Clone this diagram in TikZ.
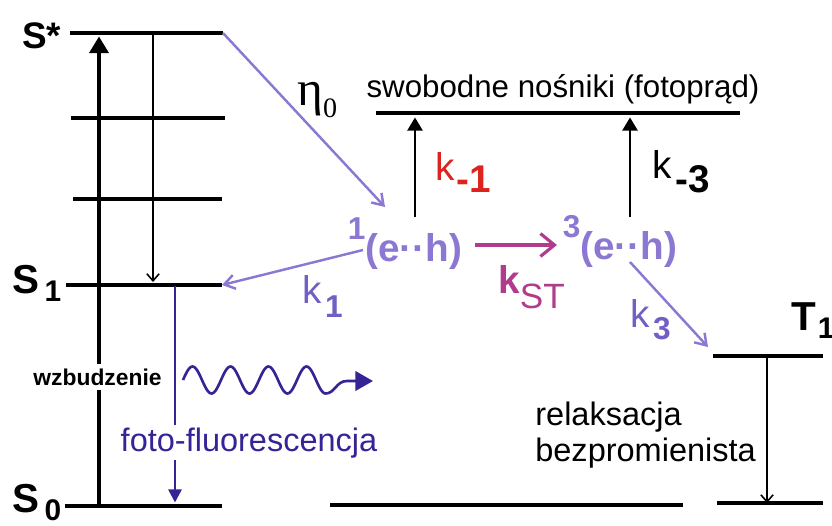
\documentclass[tikz,border=0pt]{standalone}
\usepackage{fontspec}
\setmainfont{Liberation Sans}
\newfontfamily\etafont{Liberation Serif}
\definecolor{exlav}{RGB}{140,120,210}
\definecolor{exk}{RGB}{115,95,195}
\definecolor{exindigo}{RGB}{55,35,150}
\definecolor{exmagenta}{RGB}{175,60,140}
\definecolor{exred}{RGB}{220,35,30}
\usetikzlibrary{arrows.meta,positioning}
\newcommand{\sz}[1]{\fontsize{#1}{#1}\selectfont}
\newcommand{\lowsub}[2]{\raisebox{-#1}{#2}}

\begin{document}
\begin{tikzpicture}[x=0.02cm, y=-0.02cm,
  level/.style={line width=2pt},
  excite/.style={line width=1.8pt, -{Triangle[length=9.5pt,width=11pt]}, shorten >=2pt},
  relax/.style={line width=0.9pt, -{Straight Barb[length=4pt,width=7pt]}},
  escape/.style={line width=1.5pt, -{Triangle[length=7.5pt,width=8.5pt]}, shorten >=2.5pt},
  lavarr/.style={exlav, line width=1.4pt, -{Straight Barb[length=6pt,width=8pt]}},
  emit/.style={exindigo, line width=1.5pt, -{Triangle[length=7.5pt,width=7.5pt]}},
  pairlab/.style={exlav, font=\bfseries\sz{22}, inner sep=0pt, anchor=base},
  statelab/.style={font=\bfseries\sz{23}, inner sep=0pt, anchor=base west},
  klab/.style={font=\sz{22}, inner sep=0pt, anchor=base west}]
\useasboundingbox (0,0) rectangle (832,525);

% energy levels
\coordinate (Sst-w) at (70,33);   \coordinate (Sst-e) at (223,33);
\coordinate (v2-w) at (71,118);   \coordinate (v2-e) at (225,118);
\coordinate (v3-w) at (73,199);   \coordinate (v3-e) at (222,199);
\coordinate (S1-w) at (66,285);   \coordinate (S1-e) at (222,285);
\coordinate (S0-w) at (65,506);   \coordinate (S0-e) at (222,506);
\coordinate (free-w) at (376,113); \coordinate (free-e) at (740,113);
\coordinate (mid-w) at (330,505); \coordinate (mid-e) at (683,505);
\coordinate (T1-w) at (713,356);  \coordinate (T1-e) at (823,356);
\coordinate (T0-w) at (717,503);  \coordinate (T0-e) at (823,503);

\foreach \lv in {Sst,v2,v3,S1,S0,free,mid,T1,T0}
  \draw[level] (\lv-w) -- (\lv-e);

\node[statelab] (Sst) at (22,48) {\sz{21}S*};
\node[statelab] (S1) at (12,293) {S\kern3pt\lowsub{5pt}{\sz{17}1}};
\node[statelab] (S0) at (12,512) {S\kern3pt\lowsub{5pt}{\sz{17}0}};
\node[statelab] (T1) at (791,330) {T\kern1pt\lowsub{5pt}{\sz{17}1}};

% singlet manifold
\coordinate (exc-a) at (99,506);  \coordinate (exc-b) at (99,33);
\coordinate (ic-a) at (153,33);   \coordinate (ic-b) at (153,282);
\coordinate (fl-a) at (175,286);  \coordinate (fl-b) at (175,506);
\draw[excite] (exc-a) -- (exc-b);
\draw[relax] (ic-a) -- (ic-b);
\draw[emit, shorten >=2pt] (fl-a) -- (fl-b);
\node[font=\bfseries\sz{13}, fill=white, inner sep=2.5pt, anchor=base] (wzb) at (97.5,385) {wzbudzenie};
\node[font=\sz{18.5}, exindigo, fill=white, inner xsep=0pt, inner ysep=1.5pt, anchor=base] (fluo) at (249,451) {foto-fluorescencja};

% emitted photon
\draw[exindigo, line width=1.5pt, -{Triangle[length=10pt,width=11pt]}]
  plot[domain=0:3.75, samples=120, smooth] ({183+38*\x}, {380-13.5*sin(360*\x)})
  .. controls (335,393.5) and (336,381) .. (347,381) -- (373,381);

% charge-transfer pairs
\node[font=\sz{17.8}, inner sep=0pt, anchor=base] (freelab) at (563,97) {swobodne nośniki (fotoprąd)};
\node[pairlab] (eh1) at (405,261) {\raisebox{12pt}{\sz{18}1}(e··h)};
\node[pairlab] (eh3) at (620,259) {\raisebox{12pt}{\sz{18}3}(e··h)};

\coordinate (eta-tip) at (385,207);
\coordinate (up1) at (415,217);  \coordinate (up3) at (630,217);
\coordinate (k1-from) at (363,250);
\coordinate (st-a) at (475,245); \coordinate (st-b) at (557,245);
\coordinate (k3-from) at (630,262); \coordinate (k3-tip) at (708,347);
\coordinate (rel-a) at (767,357); \coordinate (rel-b) at (767,503);

\draw[lavarr] (Sst-e) -- (eta-tip);
\draw[escape] (up1) -- (up1 |- free-w);
\draw[escape] (up3) -- (up3 |- free-w);
\draw[lavarr] (k1-from) -- (S1-e);
\draw[exmagenta, line width=1.8pt, -{Straight Barb[length=8pt,width=13pt]}] (st-a) -- (st-b);
\draw[lavarr] (k3-from) -- (k3-tip);
\draw[relax] (rel-a) -- (rel-b);

% rate labels
\node[inner sep=0pt, anchor=base west, font=\etafont\sz{28}] (eta) at (297,105) {η\lowsub{7pt}{\sz{16}0}};
\node[klab, exred] (km1) at (435,180) {k\kern1pt\lowsub{7pt}{\bfseries -1}};
\node[klab] (km3) at (652,178) {k\kern2pt\lowsub{8pt}{\bfseries -3}};
\node[klab, exmagenta] (kst) at (498,293) {{\bfseries k}\lowsub{9pt}{\sz{20}ST}};
\node[klab, exk] (k1) at (302,303) {k\kern2pt\lowsub{8pt}{\bfseries\sz{18}1}};
\node[klab, exk] (k3) at (630,327) {k\kern2pt\lowsub{7pt}{\bfseries\sz{18}3}};

\node[font=\sz{18.5}, align=left, inner sep=0pt, anchor=north west] (relaks) at (535,402)
  {relaksacja\\[2pt]bezpromienista};

\end{tikzpicture}
\end{document}
